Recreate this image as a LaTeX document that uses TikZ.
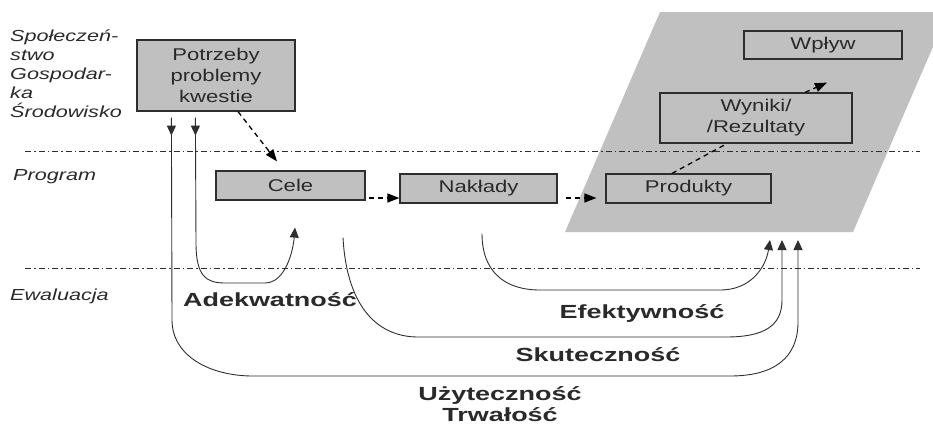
\documentclass[tikz,border=0pt]{standalone}
\usepackage{fontspec}
\setmainfont{Liberation Sans}
\newfontfamily\boxfont[FakeStretch=1.3]{Liberation Sans}
\newfontfamily\sidefont[FakeStretch=1.35]{Liberation Sans}
\newfontfamily\critfont[FakeStretch=1.42]{Liberation Sans}
\usetikzlibrary{arrows.meta,calc}
\definecolor{boxgray}{HTML}{C0C0C0}
\definecolor{ink}{HTML}{2A2A2A}
\definecolor{edgec}{HTML}{2E2E2E}
\begin{document}
\begin{tikzpicture}[x=1pt,y=-1pt,
  box/.style={draw=edgec,line width=1.2pt,fill=boxgray,inner sep=0pt,text=ink,
    font=\boxfont\fontsize{17}{21}\selectfont,align=center},
  side/.style={anchor=west,inner sep=0pt,text=ink,align=left,
    font=\sidefont\itshape\fontsize{16}{19}\selectfont},
  crit/.style={inner sep=0pt,text=ink,align=center,
    font=\critfont\bfseries\fontsize{19}{21}\selectfont},
  sepline/.style={draw=edgec,line width=0.9pt,dash pattern=on 6pt off 3pt on 1.5pt off 3pt},
  flow/.style={draw=black,line width=1.3pt,dash pattern=on 5pt off 4pt},
  tipA/.style={-{Triangle[length=12pt,width=9pt]}},
  link/.style={draw=edgec,line width=0.9pt},
  upA/.style={-{Triangle[length=10pt,width=9pt]}}
]
\useasboundingbox (0,0) rectangle (933,426);
\clip (0,0) rectangle (933,426);

% shaded parallelogram
\fill[boxgray] (565,232) -- (660,12) -- (948,12) -- (853,232) -- cycle;

% separators
\coordinate (s1a) at (25,151); \coordinate (s1b) at (920,151);
\coordinate (s2a) at (25,268); \coordinate (s2b) at (920,268);
\draw[sepline] (s1a) -- (s1b);
\draw[sepline] (s2a) -- (s2b);

% side labels
\node[side] (soc) at (10,74) {Społeczeń-\\stwo\\Gospodar-\\ka\\Środowisko};
\node[side] (prog) at (13,177) {Program};
\node[side] (ewal) at (10,296) {Ewaluacja};

% boxes
\node[box,minimum width=158pt,minimum height=71pt] (pot) at (216,75.5) {Potrzeby\\problemy\\kwestie};
\node[box,minimum width=149pt,minimum height=29pt] (cele) at (290.5,185.5) {Cele};
\node[box,minimum width=157pt,minimum height=29pt] (nakl) at (478.5,188.5) {Nakłady};
\node[box,minimum width=165pt,minimum height=29pt] (prod) at (688.5,188.5) {Produkty};
\node[box,minimum width=192pt,minimum height=50pt] (wyn) at (756,118) {Wyniki/\\/Rezultaty};
\node[box,minimum width=158pt,minimum height=28pt] (wpl) at (823,45) {Wpływ};

% dashed flow
\draw[flow,tipA] ([xshift=22pt]pot.south) -- ([xshift=-13.5pt,yshift=9pt]cele.north);
\draw[flow,tipA] ([xshift=3pt,yshift=-12.5pt]cele.east) -- ([yshift=-9.5pt]nakl.west);
\draw[flow,tipA] ([xshift=8pt,yshift=-9.5pt]nakl.east) -- ([xshift=-9pt,yshift=-9.5pt]prod.west);
\draw[flow] ([xshift=-16.5pt]prod.north) -- ([xshift=-29pt]wyn.south);
\draw[flow,tipA] ([xshift=49pt]wyn.north) -- ([xshift=4pt,yshift=-23pt]wpl.south);

% evaluation connectors
\coordinate (uS) at ([xshift=35pt,yshift=-6pt]pot.south west);
\coordinate (aS) at ([xshift=59pt,yshift=-6pt]pot.south west);
\coordinate (aE) at ([xshift=4.5pt,yshift=-27pt]cele.south);
\coordinate (sS) at ([xshift=52.5pt,yshift=-37pt]cele.south);
\coordinate (eS) at ([xshift=3.5pt,yshift=-30pt]nakl.south);
\coordinate (eE) at (770,240);
\coordinate (sE) at (782,240);
\coordinate (uE) at (798,240);

\draw[link,upA] (uS) -- ++(0,18);
\draw[link,upA] (aS) -- ++(0,18);

\draw[link,upA] (aS) -- (196,243) .. controls (196,276) and (206,283) .. (225,283)
  -- (265,283) .. controls (285,283) and (293,252) .. (aE);
\draw[link,upA] (eS) .. controls (482,272) and (505,290) .. (540,290)
  -- (720,290) .. controls (752,290) and (766,266) .. (eE);
\draw[link,upA] (sS) .. controls (347,310) and (380,337) .. (418,337)
  -- (726,337) .. controls (764,337) and (782,326) .. (782,300) -- (sE);
\draw[link,upA] (uS) -- (172,320) .. controls (172,356) and (210,376) .. (253,376)
  -- (730,376) .. controls (774,376) and (798,358) .. (798,322) -- (uE);

% criteria labels
\node[crit] (ade) at (270,300) {Adekwatność};
\node[crit] (efe) at (642,313) {Efektywność};
\node[crit] (sku) at (598,355) {Skuteczność};
\node[crit] (uzy) at (500,404) {Użyteczność\\Trwałość};
\end{tikzpicture}
\end{document}
